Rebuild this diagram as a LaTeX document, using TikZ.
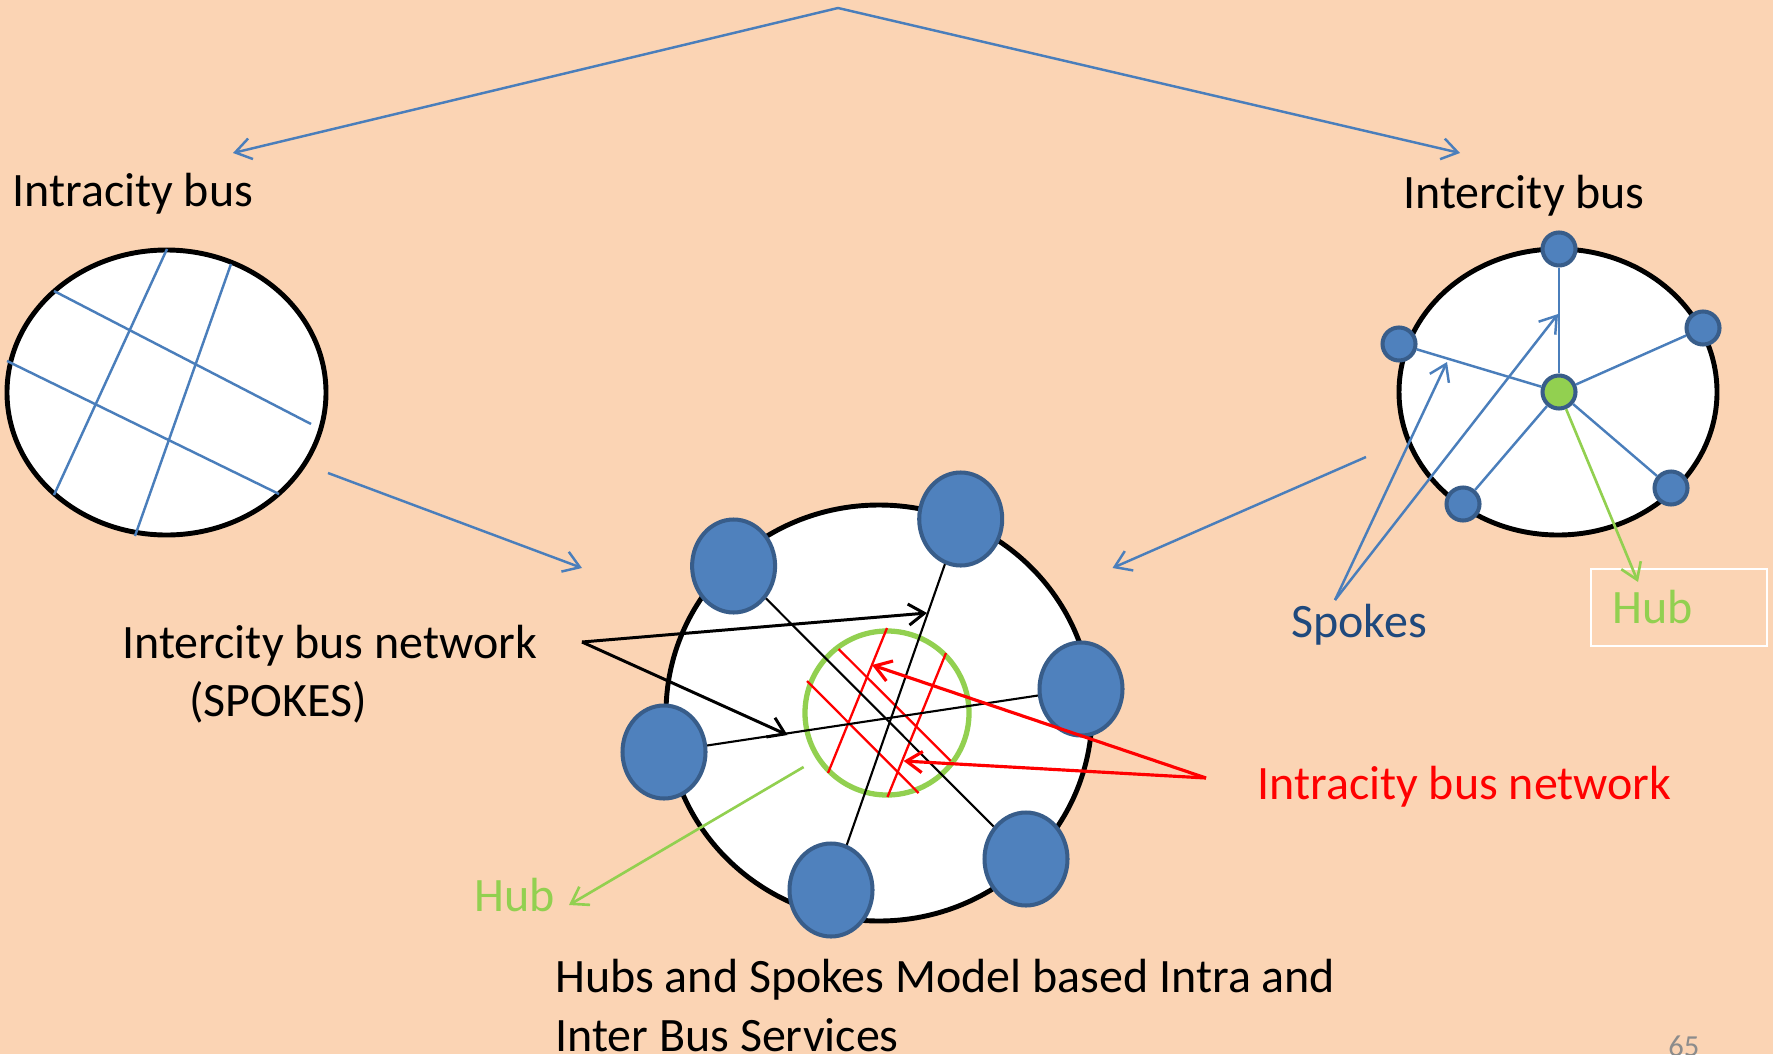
\documentclass[tikz,border=0pt]{standalone}
\usepackage{fontspec}
\setmainfont{Carlito}
\usetikzlibrary{arrows.meta,shapes.geometric}
\definecolor{bgpeach}{HTML}{FBD4B4}
\definecolor{lineblue}{HTML}{4A7EBB}
\definecolor{stopblue}{HTML}{4F81BD}
\definecolor{stopedge}{HTML}{385D8A}
\definecolor{hubgreen}{HTML}{92D050}
\definecolor{navytext}{HTML}{1F497D}
\definecolor{pagegray}{HTML}{8C8C8C}
\newlength\pxl
\setlength\pxl{0.02cm}
\begin{document}
\begin{tikzpicture}[x=0.02cm,y=-0.02cm,
  region/.style={ellipse, draw=black, line width=2.8pt, fill=white, inner sep=0pt},
  bigstop/.style={ellipse, draw=stopedge, fill=stopblue, line width=2.3pt, inner sep=0pt,
                  minimum width=83*\pxl, minimum height=93*\pxl},
  smallstop/.style={circle, draw=stopedge, fill=stopblue, line width=2.3pt, inner sep=0pt,
                    minimum size=33*\pxl},
  txt/.style={anchor=base west, inner sep=0pt, font=\fontsize{27.3}{33}\selectfont},
  barb/.style={-{Straight Barb[length=9pt,width=12pt]}},
  bluelink/.style={lineblue, line width=1.4pt},
  blackspoke/.style={black, line width=1.2pt},
  redgrid/.style={red, line width=1.3pt}
]
% page
\fill[bgpeach] (0,0) rectangle (1773,1054);
\useasboundingbox (0,0) rectangle (1773,1054);

% ---------- intracity network (left) ----------
\node[region, minimum width=319*\pxl, minimum height=285*\pxl] (intra) at (166.5,392.5) {};
\draw[bluelink] (167,249) -- (54,495);
\draw[bluelink] (231,264) -- (135,536);
\draw[bluelink] (54,291) -- (311,424);
\draw[bluelink] (7,361) -- (279,494);
\node[txt] (intralbl) at (12,207) {Intracity bus};

% ---------- intercity network (right) ----------
\node[region, minimum width=318*\pxl, minimum height=286*\pxl] (inter) at (1558,392) {};
\node[smallstop] (rt) at (1559,249) {};
\node[smallstop] (rl) at (1399,344) {};
\node[smallstop] (rr) at (1703,328) {};
\node[smallstop] (rbl) at (1463,504) {};
\node[smallstop] (rbr) at (1671,488) {};
\node[smallstop, fill=hubgreen] (rhub) at (1559,392) {};
\foreach \s in {rt,rl,rr,rbl,rbr}
  \draw[bluelink] (rhub) -- (\s);
\node[txt] (interlbl) at (1403,209) {Intercity bus};

% spokes callout
\node[txt, text=navytext] (spokeslbl) at (1291,637) {Spokes};
\coordinate (spokesroot) at (1335,600);
\coordinate (spokesA) at (1447,362);
\coordinate (spokesB) at (1558,314);
\draw[bluelink, barb] (spokesroot) -- (spokesA);
\draw[bluelink, barb] (spokesroot) -- (spokesB);

% hub callout
\node[draw=white, line width=1.1pt, inner sep=0pt, minimum width=176*\pxl, minimum height=77*\pxl]
  (hubbox) at (1679,607.5) {};
\node[txt, text=hubgreen] (hublblR) at (1612,623) {Hub};
\coordinate (hubtipR) at (1638,582);
\draw[hubgreen, line width=1.5pt, barb] (rhub) -- (hubtipR);

% ---------- combined hub and spokes model ----------
\node[region, minimum width=426*\pxl, minimum height=416*\pxl] (model) at (879,713) {};
\node[circle, draw=hubgreen, line width=3pt, inner sep=0pt, minimum size=164*\pxl]
  (hubring) at (887,713) {};
% intracity grid inside the hub
\draw[redgrid] (887,628) -- (828,773);
\draw[redgrid] (946,653) -- (887.5,797);
\draw[redgrid] (838.6,649) -- (950.7,761);
\draw[redgrid] (807,681) -- (918.6,793);
% peripheral stops
\node[bigstop] (mtl) at (733.6,566) {};
\node[bigstop] (mtr) at (960.7,519) {};
\node[bigstop] (mr)  at (1081,689) {};
\node[bigstop] (ml)  at (664,752) {};
\node[bigstop] (mb)  at (831,890) {};
\node[bigstop] (mbr) at (1026,859) {};
% intercity spokes through the hub
\draw[blackspoke] (mtl) -- (mbr);
\draw[blackspoke] (mtr) -- (mb);
\draw[blackspoke] (ml) -- (mr);

% spokes callout (black)
\node[txt] (netlbl) at (122,658) {Intercity bus network};
\node[txt] (netlbl2) at (189,716) {(SPOKES)};
\coordinate (netroot) at (582,642);
\coordinate (netA) at (927,613);
\coordinate (netB) at (787.5,735);
\draw[black, line width=1.7pt, barb] (netroot) -- (netA);
\draw[black, line width=1.7pt, barb] (netroot) -- (netB);

% intracity callout (red)
\node[txt, text=red] (redlbl) at (1257,799) {Intracity bus network};
\coordinate (redroot) at (1206,778);
\coordinate (redA) at (872,665);
\coordinate (redB) at (903.6,761);
\draw[red, line width=1.8pt, barb] (redroot) -- (redA);
\draw[red, line width=1.8pt, barb] (redroot) -- (redB);

% hub callout (green)
\node[txt, text=hubgreen] (hublblL) at (474,911) {Hub};
\coordinate (hubrootL) at (803.6,767);
\coordinate (hubtipL) at (569,905);
\draw[hubgreen, line width=1.5pt, barb] (hubrootL) -- (hubtipL);

% ---------- flow arrows ----------
\coordinate (apex) at (838,8);
\coordinate (apexL) at (233,153);
\coordinate (apexR) at (1460,153);
\draw[bluelink, barb] (apex) -- (apexL);
\draw[bluelink, barb] (apex) -- (apexR);
\coordinate (fromintra) at (328,473);
\coordinate (tomodelL) at (582,568);
\coordinate (frominter) at (1366,457);
\coordinate (tomodelR) at (1112.5,568);
\draw[bluelink, barb] (fromintra) -- (tomodelL);
\draw[bluelink, barb] (frominter) -- (tomodelR);

% ---------- caption ----------
\node[txt] (cap1) at (555,992) {Hubs and Spokes Model based Intra and};
\node[txt] (cap2) at (555,1051) {Inter Bus Services};
\node[anchor=base west, inner sep=0pt, text=pagegray, font=\fontsize{17.4}{20}\selectfont]
  (pageno) at (1668,1056) {65};
\end{tikzpicture}
\end{document}
